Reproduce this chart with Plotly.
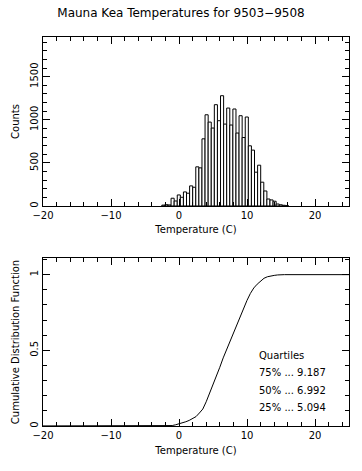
import numpy as np
import plotly.graph_objects as go

title = "Mauna Kea Temperatures for 9503\u22129508"
x_label = "Temperature (C)"
y1_label = "Counts"
y2_label = "Cumulative Distribution Function"

# Histogram (bin start / width in deg C, counts per bin)
bin_start = -2.53
bin_width = 0.4545
counts = [10, 15, 12, 90, 58, 128, 101, 163, 148, 233, 217, 454, 442, 779,
          1058, 973, 904, 1175, 989, 1279, 950, 1136, 939, 1125, 846, 1047,
          794, 1032, 698, 648, 392, 473, 276, 174, 81, 70, 55, 23, 14, 8, 4]

# Cumulative distribution
cdf_x = [-25.0, -2.5, -1.5, -1.0, -0.5, 0.0, 0.5, 1.0, 1.5, 2.0, 2.5, 3.0, 3.5,
         4.0, 4.5, 5.0, 5.5, 6.0, 6.5, 7.0, 7.5, 8.0, 8.5, 9.0, 9.5, 10.0,
         10.5, 11.0, 11.5, 12.0, 12.5, 13.0, 13.5, 14.0, 14.5, 15.0, 15.5, 25.0]
cdf_y = [0.0, 0.0, 0.001, 0.003, 0.008, 0.013, 0.020, 0.028, 0.037, 0.049,
         0.062, 0.086, 0.112, 0.160, 0.215, 0.268, 0.325, 0.388, 0.450, 0.505,
         0.565, 0.620, 0.675, 0.727, 0.777, 0.830, 0.876, 0.912, 0.937, 0.960,
         0.976, 0.986, 0.992, 0.995, 0.998, 0.999, 1.0, 1.0]

quartile_labels = ["75%", "50%", "25%"]
quartile_values = ["9.187", "6.992", "5.094"]

counts_arr = np.array(counts)
centers = bin_start + bin_width * (np.arange(len(counts_arr)) + 0.5)

FONT = "DejaVu Sans"
fig = go.Figure()
fig.add_trace(go.Bar(x=centers, y=counts_arr, width=bin_width,
                     marker=dict(color="white", line=dict(color="black", width=1)),
                     xaxis="x", yaxis="y", showlegend=False, hoverinfo="skip"))
fig.add_trace(go.Scatter(x=cdf_x, y=cdf_y, mode="lines",
                         line=dict(color="black", width=1),
                         xaxis="x2", yaxis="y2", showlegend=False, hoverinfo="skip"))

def xax(anchor):
    return dict(range=[-20, 25], tick0=0, dtick=10, ticks="inside", ticklen=7,
                tickwidth=1, tickcolor="black", automargin=False,
                minor=dict(dtick=2, ticks="inside", ticklen=4, tickcolor="black", tickwidth=1),
                showline=True, linecolor="black", linewidth=1, mirror="allticks",
                showgrid=False, zeroline=False, anchor=anchor,
                tickfont=dict(family=FONT, size=10, color="black"),
                title=dict(text=x_label, font=dict(family=FONT, size=10, color="black"), standoff=6))

def yax(anchor, rng, dtick, mdtick, domain, label):
    return dict(range=rng, tick0=0, dtick=dtick, ticks="inside", ticklen=7,
                tickwidth=1, tickcolor="black", tickangle=-90, automargin=False,
                minor=dict(dtick=mdtick, ticks="inside", ticklen=4, tickcolor="black", tickwidth=1),
                showline=True, linecolor="black", linewidth=1, mirror="allticks",
                showgrid=False, zeroline=False, anchor=anchor, domain=domain,
                tickfont=dict(family=FONT, size=10, color="black"),
                title=dict(text=label, font=dict(family=FONT, size=10, color="black"), standoff=7))

fig.update_layout(
    width=362, height=471,
    margin=dict(l=43, r=13, t=37, b=45, autoexpand=False),
    paper_bgcolor="white", plot_bgcolor="white",
    bargap=0, hovermode=False,
    title=dict(text=title, x=0.5, xanchor="center", y=1 - 13 / 471, yanchor="middle",
               font=dict(family=FONT, size=12, color="black")),
    xaxis=xax("y"),
    yaxis=yax("x", [0, 1960], 500, 100, [0.5656, 1], y1_label),
    xaxis2=xax("y2"),
    yaxis2=yax("x2", [0, 1.11], 0.5, 0.1, [0, 0.4319], y2_label),
)

ann_y = [0.351, 0.236, 0.120]
fig.add_annotation(x=11.47, y=0.465, xref="x2", yref="y2", text="Quartiles",
                   showarrow=False, xanchor="left", yanchor="middle",
                   font=dict(family=FONT, size=10, color="black"))
for lab, val, yy in zip(quartile_labels, quartile_values, ann_y):
    fig.add_annotation(x=11.47, y=yy, xref="x2", yref="y2", text=f"{lab} ... {val}",
                       showarrow=False, xanchor="left", yanchor="middle",
                       font=dict(family=FONT, size=10, color="black"))

fig.write_html("out.html", config={"displayModeBar": False, "staticPlot": True},
               post_script="document.body.style.margin='0px';")
